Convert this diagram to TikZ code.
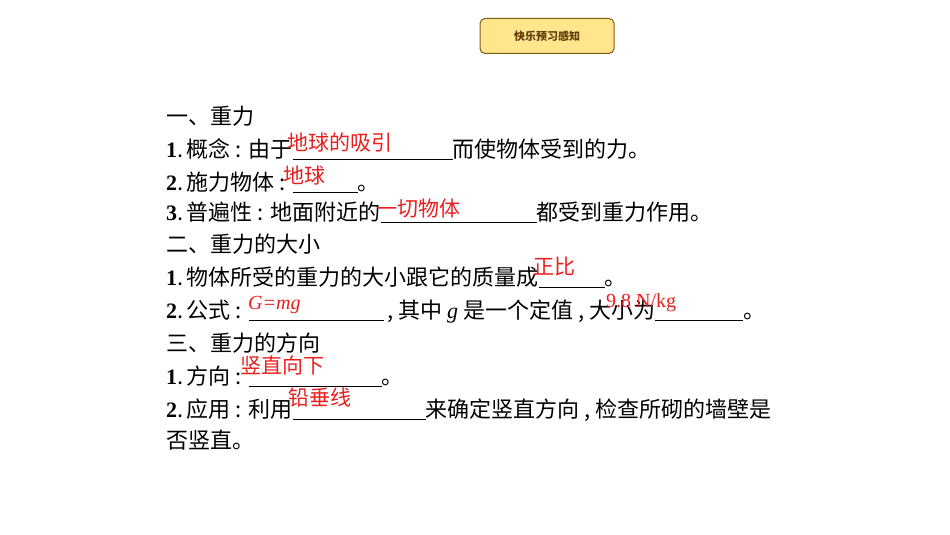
\documentclass[tikz,border=0pt]{standalone}
\usepackage{fontspec}
\setmainfont{Liberation Serif}
\newfontfamily\cjk{Noto Sans CJK SC}
\definecolor{btnfill}{RGB}{255,230,140}
\definecolor{btnedge}{RGB}{130,90,20}
\definecolor{btntext}{RGB}{100,60,10}
\definecolor{ansred}{RGB}{235,30,30}
\newcommand{\blank}[1]{\rule[-3pt]{#1pt}{0.8pt}}
\newcommand{\num}[1]{{\rmfamily\bfseries #1}.\,}
\begin{document}
\begin{tikzpicture}[x=1pt,y=-1pt,
  line/.style={anchor=base west,inner sep=0pt,font=\cjk\fontsize{22}{24}\selectfont},
  answer/.style={anchor=base west,inner sep=0pt,text=ansred,font=\cjk\fontsize{21}{24}\selectfont},
  answerm/.style={anchor=base west,inner sep=0pt,text=ansred,font=\fontsize{20}{22}\selectfont}]
  \useasboundingbox (0,0) rectangle (950,535);

  \node[draw=btnedge,fill=btnfill,rounded corners=5pt,line width=1pt,
    minimum width=134pt,minimum height=35pt,text=btntext,
    font=\cjk\bfseries\fontsize{11}{13}\selectfont] (title) at (547,36) {快乐预习感知};

  % question lines
  \node[line] (l1) at (166,124) {一、重力};
  \node[line] (l2) at (166,157) {\num{1}概念 : 由于\blank{160}而使物体受到的力。};
  \node[line] (l3) at (166,190) {\num{2}施力物体 : \blank{65}。};
  \node[line] (l4) at (166,220) {\num{3}普遍性 : 地面附近的\blank{156}都受到重力作用。};
  \node[line] (l5) at (166,252) {二、重力的大小};
  \node[line] (l6) at (166,285) {\num{1}物体所受的重力的大小跟它的质量成\blank{66}。};
  \node[line] (l7) at (166,318) {\num{2}公式 : \blank{135}\,, 其中 {\rmfamily\itshape g} 是一个定值 , 大小为\blank{88}。};
  \node[line] (l8) at (166,351) {三、重力的方向};
  \node[line] (l9) at (166,384) {\num{1}方向 : \blank{133}。};
  \node[line] (l10) at (166,417) {\num{2}应用 : 利用\blank{133}来确定竖直方向 , 检查所砌的墙壁是};
  \node[line] (l11) at (166,448) {否竖直。};

  % answers
  \node[answer] (a1) at (287,150) {地球的吸引};
  \node[answer] (a2) at (283,183) {地球};
  \node[answer] (a3) at (376,216) {一切物体};
  \node[answer] (a4) at (533,274) {正比};
  \node[answerm,font=\itshape\fontsize{20}{22}\selectfont] (a5) at (248,309) {G=mg};
  \node[answerm] (a6) at (606,307) {9.8 N/kg};
  \node[answer] (a7) at (240,373) {竖直向下};
  \node[answer] (a8) at (288,405) {铅垂线};
\end{tikzpicture}
\end{document}
